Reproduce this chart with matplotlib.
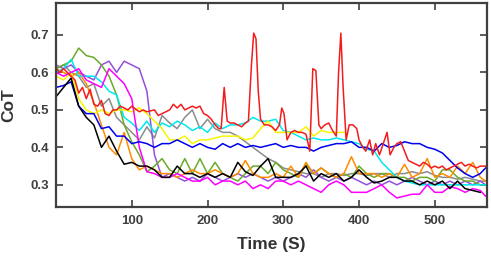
import numpy as np
import matplotlib
matplotlib.use("Agg")
import matplotlib.pyplot as plt

# sample times (s) shared by most runs
time = list(range(0, 570, 10)) + [567]

black = [0.535, 0.56, 0.585, 0.51, 0.48, 0.46, 0.40, 0.43, 0.39, 0.355, 0.36, 0.35, 0.35, 0.34, 0.32,
         0.32, 0.35, 0.33, 0.33, 0.32, 0.33, 0.32, 0.33, 0.32, 0.36, 0.335, 0.325, 0.35, 0.37, 0.32,
         0.32, 0.32, 0.33, 0.35, 0.31, 0.33, 0.32, 0.33, 0.31, 0.32, 0.34, 0.32, 0.305, 0.31, 0.32,
         0.32, 0.31, 0.31, 0.30, 0.31, 0.30, 0.31, 0.29, 0.31, 0.29, 0.285, 0.28, np.nan]
magenta = [0.60, 0.59, 0.60, 0.61, 0.58, 0.57, 0.56, 0.61, 0.59, 0.57, 0.53, 0.40, 0.335, 0.33, 0.32,
           0.32, 0.33, 0.32, 0.31, 0.31, 0.32, 0.30, 0.31, 0.31, 0.30, 0.31, 0.29, 0.30, 0.29, 0.31,
           0.31, 0.30, 0.31, 0.30, 0.29, 0.28, 0.30, 0.31, 0.30, 0.28, 0.28, 0.28, 0.29, 0.30, 0.28,
           0.265, 0.27, 0.275, 0.275, 0.30, 0.28, 0.28, 0.295, 0.29, 0.28, 0.29, 0.285, 0.27]
purple = [0.62, 0.61, 0.62, 0.60, 0.59, 0.58, 0.62, 0.63, 0.60, 0.63, 0.62, 0.61, 0.55, 0.38, 0.32,
          0.33, 0.32, 0.31, 0.32, 0.31, 0.33, 0.32, 0.31, 0.32, 0.33, 0.32, 0.33, 0.32, 0.31, 0.32,
          0.31, 0.32, 0.33, 0.32, 0.34, 0.32, 0.31, 0.32, 0.31, 0.32, 0.31, 0.30, 0.31, 0.30, 0.31,
          0.30, 0.31, 0.32, 0.31, 0.30, 0.31, 0.30, 0.31, 0.30, 0.31, 0.30, 0.31, 0.30]
green = [0.61, 0.62, 0.63, 0.665, 0.645, 0.64, 0.62, 0.59, 0.54, 0.46, 0.415, 0.38, 0.335, 0.35, 0.37,
         0.34, 0.33, 0.37, 0.33, 0.37, 0.33, 0.36, 0.33, 0.32, 0.31, 0.33, 0.35, 0.35, 0.33, 0.36,
         0.34, 0.33, 0.32, 0.355, 0.33, 0.345, 0.33, 0.32, 0.33, 0.32, 0.35, 0.33, 0.32, 0.33, 0.33,
         0.32, 0.32, 0.31, 0.32, 0.32, 0.31, 0.34, 0.34, 0.32, 0.31, 0.31, 0.30, 0.30]
orange = [0.61, 0.60, 0.59, 0.60, 0.57, 0.52, 0.46, 0.40, 0.38, 0.44, 0.37, 0.34, 0.35, 0.34, 0.33,
          0.33, 0.32, 0.33, 0.34, 0.33, 0.33, 0.34, 0.33, 0.32, 0.33, 0.365, 0.33, 0.32, 0.32, 0.33,
          0.32, 0.35, 0.32, 0.36, 0.33, 0.345, 0.33, 0.32, 0.33, 0.375, 0.33, 0.33, 0.33, 0.32, 0.33,
          0.32, 0.355, 0.32, 0.33, 0.37, 0.32, 0.33, 0.32, 0.35, 0.33, 0.36, 0.32, 0.31]
gray = [0.61, 0.62, 0.60, 0.59, 0.56, 0.57, 0.51, 0.53, 0.48, 0.46, 0.44, 0.42, 0.455, 0.425, 0.485,
        0.465, 0.45, 0.48, 0.50, 0.45, 0.475, 0.45, 0.44, 0.44, 0.43, 0.415, 0.40, 0.385, 0.37, 0.36,
        0.345, 0.34, 0.335, 0.33, 0.33, 0.32, 0.33, 0.33, 0.325, 0.33, 0.33, 0.325, 0.33, 0.33, 0.32,
        0.33, 0.33, 0.335, 0.33, 0.335, 0.325, 0.32, 0.32, 0.315, 0.32, 0.315, 0.31, 0.31]
cyan = [0.60, 0.61, 0.635, 0.59, 0.59, 0.59, 0.575, 0.55, 0.54, 0.48, 0.465, 0.445, 0.47, 0.44, 0.465,
        0.455, 0.47, 0.46, 0.445, 0.455, 0.44, 0.465, 0.45, 0.46, 0.46, 0.465, 0.48, 0.47, 0.47, 0.475,
        0.445, 0.44, 0.43, 0.42, 0.425, 0.42, 0.42, 0.425, 0.42, 0.415, 0.41, 0.395, 0.39, 0.36, 0.34,
        0.32, 0.31, 0.305, 0.30, 0.30, 0.30, 0.30, 0.30, 0.30, 0.30, 0.30, 0.30, 0.30]
yellow = [0.59, 0.58, 0.60, 0.53, 0.50, 0.49, 0.50, 0.49, 0.50, 0.50, 0.495, 0.505, 0.49, 0.47, 0.45,
          0.42, 0.42, 0.43, 0.41, 0.42, 0.42, 0.425, 0.43, 0.43, 0.43, 0.42, 0.425, 0.45, 0.47, 0.44,
          0.44, 0.44, 0.44, 0.455, 0.43, 0.445, 0.44, 0.44, 0.44] + [np.nan] * 19
blue = [0.56, 0.565, 0.575, 0.51, 0.49, 0.49, 0.45, 0.455, 0.43, 0.43, 0.41, 0.415, 0.41, 0.40, 0.41,
        0.41, 0.42, 0.41, 0.40, 0.41, 0.40, 0.395, 0.41, 0.40, 0.41, 0.40, 0.405, 0.40, 0.405, 0.41,
        0.40, 0.405, 0.40, 0.40, 0.39, 0.40, 0.405, 0.41, 0.41, 0.415, 0.40, 0.40, 0.39, 0.41, 0.40,
        0.405, 0.415, 0.41, 0.41, 0.40, 0.395, 0.385, 0.365, 0.345, 0.33, 0.32, 0.33, 0.345]

# red run has its own, finer sampling around the spikes
time_red = [0, 5, 10, 15, 20, 25, 30, 35, 40, 45, 50, 55, 60, 65, 70, 75, 80, 85, 90, 95, 100, 110,
            115, 120, 130, 135, 140, 150, 155, 160, 165, 170, 175, 180, 185, 190, 195, 200, 205, 210,
            215, 218, 222, 226, 230, 235, 240, 245, 250, 254, 258, 261, 264, 267, 270, 275, 280, 285,
            290, 295, 298, 301, 305, 310, 315, 320, 325, 330, 335, 339, 343, 347, 350, 355, 360, 365,
            370, 373, 376, 379, 383, 387, 392, 397, 400, 405, 409, 414, 418, 422, 427, 432, 437, 441,
            446, 450, 455, 460, 465, 470, 475, 480, 485, 490, 495, 500, 505, 510, 515, 520, 525, 530,
            535, 540, 545, 550, 555, 560, 567]
red = [0.61, 0.60, 0.61, 0.60, 0.59, 0.58, 0.545, 0.56, 0.53, 0.555, 0.515, 0.51, 0.525, 0.49, 0.485,
       0.50, 0.50, 0.51, 0.505, 0.50, 0.51, 0.495, 0.50, 0.495, 0.50, 0.485, 0.49, 0.50, 0.515, 0.505,
       0.515, 0.50, 0.505, 0.51, 0.505, 0.51, 0.49, 0.485, 0.475, 0.46, 0.45, 0.45, 0.56, 0.47, 0.465,
       0.465, 0.46, 0.455, 0.465, 0.47, 0.62, 0.705, 0.69, 0.55, 0.475, 0.46, 0.46, 0.455, 0.445, 0.46,
       0.505, 0.49, 0.42, 0.44, 0.445, 0.44, 0.44, 0.435, 0.39, 0.61, 0.605, 0.46, 0.45, 0.46, 0.465,
       0.445, 0.43, 0.60, 0.705, 0.56, 0.42, 0.46, 0.46, 0.45, 0.42, 0.40, 0.39, 0.42, 0.38, 0.41,
       0.38, 0.41, 0.44, 0.38, 0.40, 0.41, 0.415, 0.39, 0.365, 0.36, 0.355, 0.35, 0.36, 0.355, 0.345,
       0.35, 0.345, 0.35, 0.34, 0.345, 0.35, 0.355, 0.36, 0.35, 0.355, 0.35, 0.345, 0.35, 0.35]

plt.rcParams['font.family'] = ['Liberation Sans', 'DejaVu Sans']

fig = plt.figure(figsize=(4.91, 2.59), dpi=100)
ax = fig.add_axes([0.114, 0.201, 0.878, 0.787])

series = [(gray, '#8c8c8c'), (purple, '#9450d8'), (green, '#6aaa2a'), (orange, '#ff8c00'),
          (cyan, '#00e8f0'), (yellow, '#f5f500'), (magenta, '#ff00ff'), (blue, '#0000f0'),
          (black, '#000000')]
for vals, col in series:
    ax.plot(time, vals, color=col, lw=1.1)
ax.plot(time_red, red, color='#f21c1c', lw=1.1)

ax.set_xlim(0, 569)
ax.set_ylim(0.241, 0.785)
ax.set_xticks([100, 200, 300, 400, 500])
ax.set_yticks([0.3, 0.4, 0.5, 0.6, 0.7])
ax.set_yticklabels(['0.3', '0.4', '0.5', '0.6', '0.7'])

dark = '#404040'
for s in ax.spines.values():
    s.set_color(dark)
    s.set_linewidth(1.6)
ax.tick_params(direction='in', length=5, width=1.2, color=dark, labelcolor=dark,
               labelsize=9.5, top=True, right=True)
ax.tick_params(axis='x', pad=6)
ax.tick_params(axis='y', pad=5)
for lab in ax.get_xticklabels() + ax.get_yticklabels():
    lab.set_fontweight('bold')

ax.set_xlabel('Time (S)', fontsize=12.5, fontweight='bold', color='#333333', labelpad=7)
ax.set_ylabel('CoT', fontsize=12.5, fontweight='bold', color='#333333', labelpad=10)

fig.savefig('out.png', dpi=100)
